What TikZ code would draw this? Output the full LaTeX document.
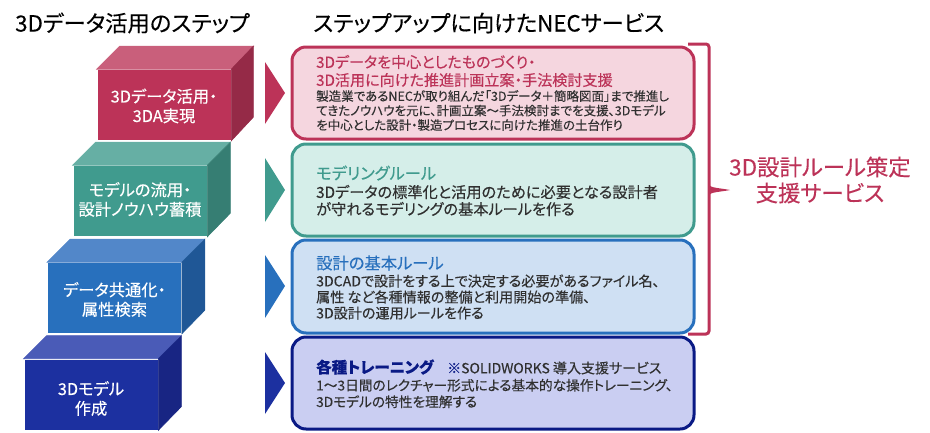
\documentclass[tikz,border=0pt]{standalone}
\usepackage{fontspec}
\setmainfont[RawFeature={+palt},FakeBold=0.25]{Noto Sans CJK JP}
\usepackage{tikz}
\usetikzlibrary{positioning}
\definecolor{redF}{HTML}{BC3358}
\definecolor{redT}{HTML}{C95F7B}
\definecolor{redS}{HTML}{952A47}
\definecolor{redL}{HTML}{F5D6DF}
\definecolor{greenF}{HTML}{409B8E}
\definecolor{greenT}{HTML}{66AFA4}
\definecolor{greenS}{HTML}{367E73}
\definecolor{greenL}{HTML}{D5EEE9}
\definecolor{blueF}{HTML}{2870BD}
\definecolor{blueT}{HTML}{5287C9}
\definecolor{blueS}{HTML}{1F5796}
\definecolor{blueL}{HTML}{CFE0F3}
\definecolor{navyF}{HTML}{1C30A0}
\definecolor{navyT}{HTML}{4A5BB7}
\definecolor{navyS}{HTML}{182583}
\definecolor{navyL}{HTML}{CACEF2}
\definecolor{navyB}{HTML}{0A1A85}
\definecolor{inkc}{HTML}{303030}
\newcommand{\pxfont}[2]{\fontsize{#1}{#2}\selectfont}
\begin{document}
\begin{tikzpicture}[x=1pt, y=-1pt,
    block/.style={draw=white, semithick, minimum width=134pt, minimum height=71pt, inner sep=0pt},
    blocktext/.style={inner sep=0pt, text=white, align=center, font=\pxfont{16.3}{19.5}},
    face/.style={draw=white, semithick},
    service/.style={rounded corners=14pt, line width=3pt, minimum width=402pt, inner sep=0pt},
    title/.style={anchor=west, inner sep=0pt, font=\pxfont{22.3}{24}},
    head/.style={anchor=west, inner sep=0pt, align=left, font=\pxfont{16.3}{18}},
    body/.style={anchor=west, inner sep=0pt, align=left, text=inkc}]
    \useasboundingbox (0,0) rectangle (930,432);
    \node[title] (T1) at (15,23) {3Dデータ活用のステップ};
    \node[title] (T2) at (313,23) {ステップアップに向けたNECサービス};
    % blocks
    \node[block,fill=redF] (A) at (164,105) {};
    \fill[face,redT] (A.north west) -- ++(23,-23) -- ++(134,0) -- (A.north east) -- cycle;
    \fill[face,redS] (A.north east) -- ++(22,-23) -- ++(0,71) -- (A.south east) -- cycle;
    \node[blocktext] (LA) at (164,106) {3Dデータ活用・\\3DA実現};
    \node[block,fill=greenF] (B) at (140,201) {};
    \fill[face,greenT] (B.north west) -- ++(23,-23) -- ++(134,0) -- (B.north east) -- cycle;
    \fill[face,greenS] (B.north east) -- ++(23,-23) -- ++(0,71) -- (B.south east) -- cycle;
    \node[blocktext] (LB) at (140,199.5) {モデルの流用・\\設計ノウハウ蓄積};
    \node[block,fill=blueF] (C) at (114.5,298) {};
    \fill[face,blueT] (C.north west) -- ++(23,-23) -- ++(134,0) -- (C.north east) -- cycle;
    \fill[face,blueS] (C.north east) -- ++(23,-23) -- ++(0,71) -- (C.south east) -- cycle;
    \node[blocktext] (LC) at (114.5,299.5) {データ共通化・\\属性検索};
    \node[block,fill=navyF] (D) at (91,394.5) {};
    \fill[face,navyT] (D.north west) -- ++(23,-23) -- ++(134,0) -- (D.north east) -- cycle;
    \fill[face,navyS] (D.north east) -- ++(23,-23) -- ++(0,71) -- (D.south east) -- cycle;
    \node[blocktext] (LD) at (91,398.5) {3Dモデル\\作成};
    % arrows
    \fill[redF] (265,62) -- (285,93) -- (265,124) -- cycle;
    \fill[greenF] (265,158) -- (285,190) -- (265,222) -- cycle;
    \fill[blueF] (265,255) -- (285,286) -- (265,318) -- cycle;
    \fill[navyF] (265,352) -- (285,383) -- (265,414) -- cycle;
    % service boxes
    \node[service,draw=redF,fill=redL,minimum height=92pt] (SA) at (493,93) {};
    \node[service,draw=greenF,fill=greenL,minimum height=92pt] (SB) at (493,190) {};
    \node[service,draw=blueF,fill=blueL,minimum height=93pt] (SC) at (493,286.5) {};
    \node[service,draw=navyB,fill=navyL,minimum height=92pt] (SD) at (493,383) {};
    \node[head,text=redF,font=\pxfont{15.1}{18}] (HA) at (316,71) {3Dデータを中心としたものづくり・\\3D活用に向けた推進計画立案・手法検討支援};
    \node[body,font=\pxfont{12.5}{14.5}] (TA) at (316,110.5) {製造業であるNECが取り組んだ「3Dデータ＋簡略図面」まで推進し\\てきたノウハウを元に、計画立案～手法検討までを支援、3Dモデル\\を中心とした設計・製造プロセスに向けた推進の土台作り};
    \node[head,text=greenF] (HB) at (316,173) {モデリングルール};
    \node[body,font=\pxfont{15.2}{17}] (TB) at (316,200.5) {3Dデータの標準化と活用のために必要となる設計者\\が守れるモデリングの基本ルールを作る};
    \node[head,text=blueF] (HC) at (316,263) {設計の基本ルール};
    \node[body,font=\pxfont{14.1}{16}] (TC) at (316,297) {3DCADで設計をする上で決定する必要があるファイル名、\\属性 など各種情報の整備と利用開始の準備、\\3D設計の運用ルールを作る};
    \node[head,text=navyB,font=\pxfont{15.5}{18}] (HD) at (316,367) {\textbf{各種トレーニング}};
    \node[head,text=inkc,font=\pxfont{14}{16}] (ND) at (447,368) {{\color{navyB}※}SOLIDWORKS 導入支援サービス};
    \node[body,font=\pxfont{13.7}{16.5}] (TD) at (316,393.5) {1～3日間のレクチャー形式による基本的な操作トレーニング、\\3Dモデルの特性を理解する};
    % bracket
    \coordinate (P1) at (688,44);
    \coordinate (P2) at (688,334);
    \coordinate (P3) at (730,190);
    \draw[redF,line width=3pt,rounded corners=3pt] (P1) -- (709,44) -- (709,334) -- (P2);
    \fill[redF] (709,185) .. controls (711,188) and (720,188) .. (P3) .. controls (720,192) and (711,192) .. (709,195) -- cycle;
    \node[inner sep=0pt,text=redF,align=center,font=\pxfont{22.4}{26}] (R) at (820,180) {3D設計ルール策定\\支援サービス};
\end{tikzpicture}
\end{document}
